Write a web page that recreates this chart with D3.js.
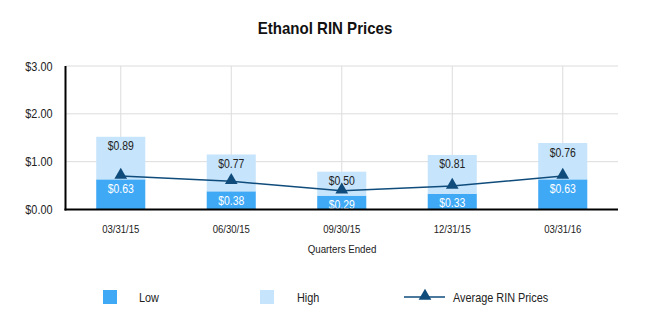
<!DOCTYPE html>
<html><head><meta charset="utf-8">
<script src="https://cdn.jsdelivr.net/npm/d3@7"></script>
<style>body{margin:0;background:#fff}svg{display:block}text{font-family:"Liberation Sans",Arial,sans-serif}</style>
</head><body><svg id="c" width="648" height="333"></svg>
<script>
const categories = ["03/31/15","06/30/15","09/30/15","12/31/15","03/31/16"];
const lowValues = [0.63,0.38,0.29,0.33,0.63];
const highValues = [0.89,0.77,0.50,0.81,0.76];
const avgValues = [0.70,0.59,0.39,0.49,0.70];
const yTicks = [0,1,2,3];

const svg = d3.select("#c");
const m = {l:65.5, r:30, t:66, b:123.5};
const W = 648, H = 333;
const SX = 0.87;
const x = d3.scaleBand().domain(categories).range([m.l, W - m.r]).paddingInner(0.556).paddingOuter(0.278);
const y = d3.scaleLinear().domain([0,3]).range([H - m.b, m.t]);
const fmt = v => "$" + v.toFixed(2);
const cLow = "#3fa9f5", cHigh = "#c6e4fb", cLine = "#0f4c7c";

function txt(g, px, py, s, o = {}) {
  return g.append("text").attr("transform", `translate(${px},${py}) scale(${SX},1)`)
    .attr("text-anchor", o.anchor || "start").style("font-size", (o.size || 12.5) + "px")
    .style("font-weight", o.weight || "normal").attr("fill", o.fill || "#222").text(s);
}

txt(svg, 325, 34, "Ethanol RIN Prices", {anchor:"middle", size:17.3, weight:"bold", fill:"#111"});

// grid
svg.append("g").selectAll("line").data(yTicks).join("line")
  .attr("x1",m.l).attr("x2",W-m.r).attr("y1",d=>y(d)).attr("y2",d=>y(d))
  .attr("stroke","#dcdcdc").attr("stroke-width",1);
svg.append("g").selectAll("line").data(categories).join("line")
  .attr("x1",d=>x(d)+x.bandwidth()/2).attr("x2",d=>x(d)+x.bandwidth()/2)
  .attr("y1",m.t).attr("y2",y(0)).attr("stroke","#dcdcdc").attr("stroke-width",1);

// y axis labels
const ya = svg.append("g").attr("transform",`translate(${m.l},0)`)
  .call(d3.axisLeft(y).tickValues(yTicks).tickFormat(fmt).tickSize(0).tickPadding(13));
ya.select(".domain").remove();
ya.selectAll("text").style("font-size","12.5px").attr("fill","#222")
  .attr("x", -13 / SX).attr("transform", `scale(${SX},1)`);

// bars
const gb = svg.append("g");
categories.forEach((c,i)=>{
  const x0 = x(c), bw = x.bandwidth();
  gb.append("rect").attr("x",x0).attr("width",bw).attr("y",y(lowValues[i])).attr("height",y(0)-y(lowValues[i])).attr("fill",cLow);
  gb.append("rect").attr("x",x0).attr("width",bw).attr("y",y(lowValues[i]+highValues[i])).attr("height",y(lowValues[i])-y(lowValues[i]+highValues[i])).attr("fill",cHigh);
  txt(gb, x0+bw/2, y(lowValues[i]+highValues[i])+13.5, fmt(highValues[i]), {anchor:"middle", size:12});
  txt(gb, x0+bw/2, y(lowValues[i])+13.5, fmt(lowValues[i]), {anchor:"middle", size:12, fill:"#fff"});
});

// axes lines
svg.append("line").attr("x1",m.l).attr("x2",m.l).attr("y1",m.t).attr("y2",y(0)+1).attr("stroke","#000").attr("stroke-width",2);
svg.append("line").attr("x1",m.l-1).attr("x2",W-m.r).attr("y1",y(0)).attr("y2",y(0)).attr("stroke","#000").attr("stroke-width",2);

// x axis labels
const xa = svg.append("g").attr("transform",`translate(0,${y(0)})`)
  .call(d3.axisBottom(x).tickSize(0).tickPadding(15.5));
xa.select(".domain").remove();
xa.selectAll("text").style("font-size","11px").attr("fill","#222").attr("transform", `scale(${SX},1)`);
txt(svg, 342, 252.5, "Quarters Ended", {anchor:"middle", size:11.2});

// line
const line = d3.line().x((d,i)=>x(categories[i])+x.bandwidth()/2).y(d=>y(d));
svg.append("path").datum(avgValues).attr("d",line).attr("fill","none").attr("stroke",cLine).attr("stroke-width",1.5);
const tri = d3.symbol().type(d3.symbolTriangle).size(70);
svg.append("g").selectAll("path").data(avgValues).join("path")
  .attr("transform",(d,i)=>`translate(${x(categories[i])+x.bandwidth()/2},${y(d)-1})`)
  .attr("d",tri).attr("fill",cLine);

// legend
const ly = 297;
const lg = svg.append("g");
lg.append("rect").attr("x",103).attr("y",ly-7).attr("width",14).attr("height",14).attr("fill",cLow);
txt(lg, 139, ly+5, "Low", {size:12.5});
lg.append("rect").attr("x",260).attr("y",ly-7).attr("width",14).attr("height",14).attr("fill",cHigh);
txt(lg, 297, ly+5, "High", {size:12.5});
lg.append("line").attr("x1",404).attr("x2",445).attr("y1",ly).attr("y2",ly).attr("stroke",cLine).attr("stroke-width",1.5);
lg.append("path").attr("transform",`translate(425,${ly-1})`).attr("d",tri).attr("fill",cLine);
txt(lg, 453, ly+5, "Average RIN Prices", {size:12.5});
</script></body></html>
